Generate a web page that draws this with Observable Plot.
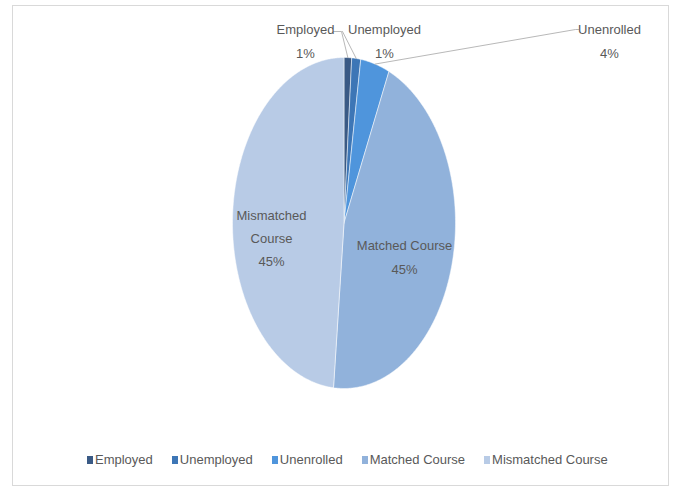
<!DOCTYPE html>
<html><head><meta charset="utf-8">
<script src="https://cdn.jsdelivr.net/npm/d3@7"></script>
<script src="https://cdn.jsdelivr.net/npm/@observablehq/plot@0.6"></script>
<style>
body{margin:0;background:#fff;}
#wrap{position:relative;width:677px;height:489px;overflow:hidden;font-family:"Liberation Sans",Arial,sans-serif;color:#595959;}
#frame{position:absolute;left:12px;top:5px;width:657px;height:481px;border:1px solid #d9d9d9;box-sizing:border-box;}
#chart{position:absolute;left:0;top:0;}
#legend{position:absolute;left:87px;top:452px;display:flex;align-items:center;font-size:13px;white-space:nowrap;}
#legend .it{display:flex;align-items:center;margin-right:19px;}
#legend .sw{width:6px;height:8px;margin-right:2px;}
</style></head>
<body><div id="wrap"><div id="frame"></div><div id="chart"></div><div id="legend"></div></div>
<script>
// ---- data ----
const categories = ["Employed","Unemployed","Unenrolled","Matched Course","Mismatched Course"];
const shares = [1.1, 1.3, 4.2, 44.9, 48.5];           // slice sizes (%) as drawn
const pctLabels = ["1%","1%","4%","45%","45%"];       // printed data labels
const labelNames = ["Employed","Unemployed","Unenrolled","Matched Course","Mismatched\nCourse"];
const colors = ["#3a5a85","#3d76b6","#4f95dc","#91b2db","#b8cbe6"];

// ---- layout ----
const W = 677, H = 445;
const xRange = [232, 455], yRange = [388, 57];
const xInv = d3.scaleLinear().domain(xRange).range([-1, 1]);
const yInv = d3.scaleLinear().domain(yRange).range([-1, 1]);
// label block centres (pixels)
const labelPx = [[305, 38], [384, 38], [609, 38], [404, 254], [271, 235]];
// leader elbows (pixels), empty = none
const leaderPx = [[[333, 31], [341, 31]], [[342, 31]], [[578, 29], [575, 29]], [], []];

const arcs = d3.pie().sort(null)(shares);
const polys = [];
arcs.forEach((a, i) => {
  polys.push({cat: categories[i], x: 0, y: 0});
  const n = Math.max(4, Math.ceil((a.endAngle - a.startAngle) / (Math.PI / 360)));
  for (let k = 0; k <= n; k++) {
    const t = a.startAngle + (a.endAngle - a.startAngle) * k / n;
    polys.push({cat: categories[i], x: Math.sin(t), y: Math.cos(t)});
  }
  polys.push({cat: categories[i], x: 0, y: 0});
});

const labels = categories.map((c, i) => ({
  cat: c,
  text: labelNames[i] + "\n" + pctLabels[i],
  x: xInv(labelPx[i][0]), y: yInv(labelPx[i][1])
}));

const leaders = [];
arcs.forEach((a, i) => {
  if (!leaderPx[i].length) return;
  const m = (a.startAngle + a.endAngle) / 2;
  leaderPx[i].forEach(p => leaders.push({cat: categories[i], x: xInv(p[0]), y: yInv(p[1])}));
  leaders.push({cat: categories[i], x: Math.sin(m), y: Math.cos(m)});
});

const chart = Plot.plot({
  width: W, height: H,
  marginTop: 0, marginBottom: 0, marginLeft: 0, marginRight: 0,
  x: {domain: [-1, 1], range: xRange, axis: null},
  y: {domain: [-1, 1], range: yRange, axis: null},
  color: {domain: categories, range: colors},
  style: {fontFamily: '"Liberation Sans",Arial,sans-serif', background: "transparent"},
  marks: [
    Plot.line(polys, {x: "x", y: "y", z: "cat", fill: "cat", stroke: "#ffffff", strokeWidth: 0.5, curve: "linear"}),
    Plot.line(leaders, {x: "x", y: "y", z: "cat", stroke: "#a6a6a6", strokeWidth: 0.8}),
    Plot.text(labels, {x: "x", y: "y", text: "text", fill: "#595959", fontSize: 13, lineHeight: 1.8, lineAnchor: "middle", textAnchor: "middle"})
  ]
});
document.getElementById("chart").appendChild(chart);

const leg = document.getElementById("legend");
categories.forEach((c, i) => {
  const it = document.createElement("div"); it.className = "it";
  const sw = document.createElement("span"); sw.className = "sw"; sw.style.background = colors[i];
  const tx = document.createElement("span"); tx.textContent = c;
  it.appendChild(sw); it.appendChild(tx); leg.appendChild(it);
});
</script></body></html>
